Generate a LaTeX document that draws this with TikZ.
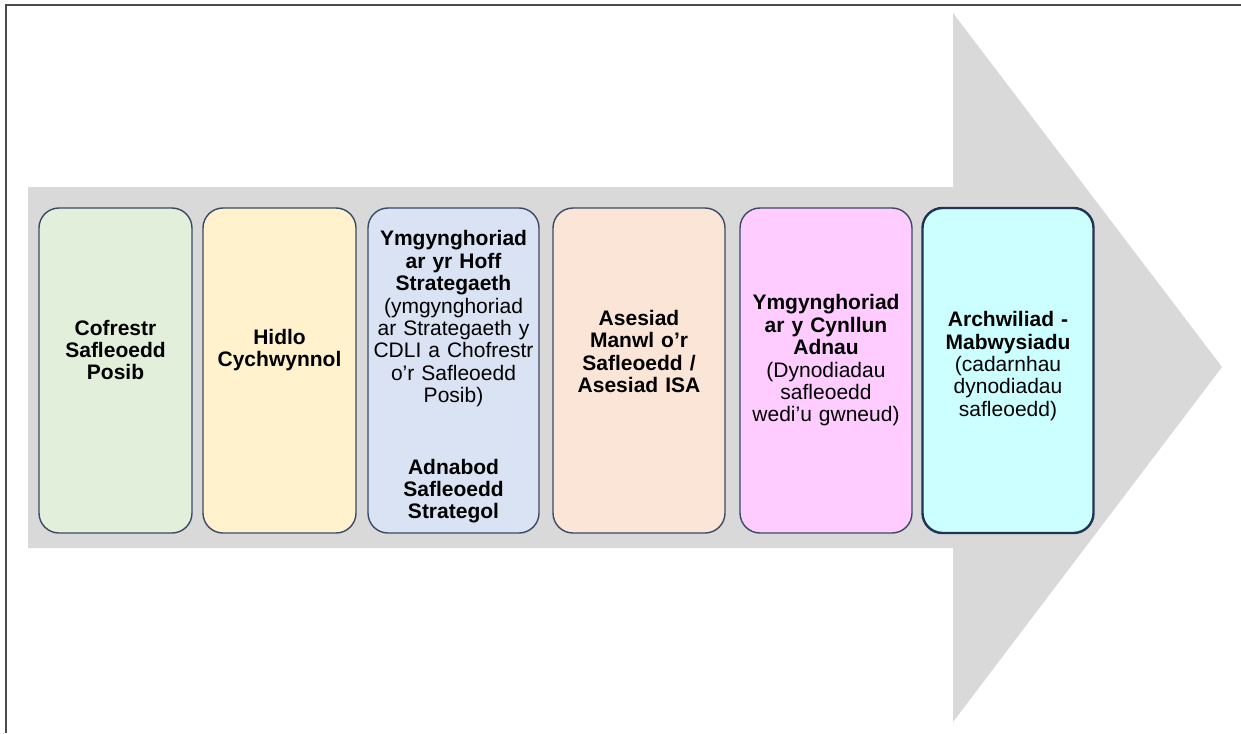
\documentclass[tikz,border=0pt]{standalone}
\usepackage{fontspec}
\setmainfont{Liberation Sans}
\definecolor{shaft}{HTML}{D9D9D9}
\definecolor{boxline}{HTML}{3A4A66}
\definecolor{navy}{HTML}{1F3357}
\definecolor{cgreen}{HTML}{E2EFDA}
\definecolor{cyellow}{HTML}{FFF2CC}
\definecolor{cblue}{HTML}{DAE3F3}
\definecolor{cpeach}{HTML}{FBE5D6}
\definecolor{cpink}{HTML}{FFCCFF}
\definecolor{ccyan}{HTML}{CCFFFF}
\begin{document}
\begin{tikzpicture}[x=0.5pt,y=-0.5pt,
    stage/.style={draw=boxline,line width=0.7pt,rounded corners=10pt,
      minimum height=162.5pt,inner sep=0pt},
    txt/.style={align=center,text width=100pt,inner sep=0pt,
      font=\fontsize{10.5}{11.2}\selectfont}]
  \useasboundingbox (0,0) rectangle (1241,733);
  % frame
  \coordinate (tl) at (6,5);
  \draw[line width=0.8pt,black!70] (tl -| 1241,0) -- (tl) -- (tl |- 0,733);
  % big arrow
  \fill[shaft] (28,187) -- (953,187) -- (953,13) -- (1222,367)
    -- (953,722) -- (953,548) -- (28,548) -- cycle;
  % stages
  \node[stage,fill=cgreen,minimum width=76.5pt]  (cofrestr) at (115.5,370.5) {};
  \node[stage,fill=cyellow,minimum width=76.5pt] (hidlo)    at (279.5,370.5) {};
  \node[stage,fill=cblue,minimum width=85.5pt]   (strat)    at (453.5,370.5) {};
  \node[stage,fill=cpeach,minimum width=86pt]    (asesiad)  at (639,370.5) {};
  \node[stage,fill=cpink,minimum width=86pt]     (adnau)    at (826,370.5) {};
  \node[stage,fill=ccyan,draw=navy,line width=1.2pt,minimum width=85.5pt]
    (archwiliad) at (1008,370.5) {};
  % texts
  \node[txt] (t-cofrestr) at (cofrestr |- 0,350)
    {\bfseries Cofrestr\\Safleoedd\\Posib};
  \node[txt] (t-hidlo) at (hidlo |- 0,350)
    {\bfseries Hidlo\\Cychwynnol};
  \node[txt] (t-strat) at (strat |- 0,377)
    {{\bfseries Ymgynghoriad\\ar yr Hoff\\Strategaeth}\\(ymgynghoriad\\ar Strategaeth y\\
     CDLI a Chofrestr\\o’r Safleoedd\\Posib)\\[24.5pt]{\bfseries Adnabod\\Safleoedd\\Strategol}};
  \node[txt] (t-asesiad) at (asesiad |- 0,351.5)
    {\bfseries Asesiad\\Manwl o’r\\Safleoedd /\\Asesiad ISA};
  \node[txt] (t-adnau) at (adnau |- 0,360.5)
    {{\bfseries Ymgynghoriad\\ar y Cynllun\\Adnau}\\(Dynodiadau\\safleoedd\\wedi’u gwneud)};
  \node[txt] (t-archwiliad) at (archwiliad |- 0,366)
    {{\bfseries Archwiliad -\\Mabwysiadu}\\(cadarnhau\\dynodiadau\\safleoedd)};
\end{tikzpicture}
\end{document}
